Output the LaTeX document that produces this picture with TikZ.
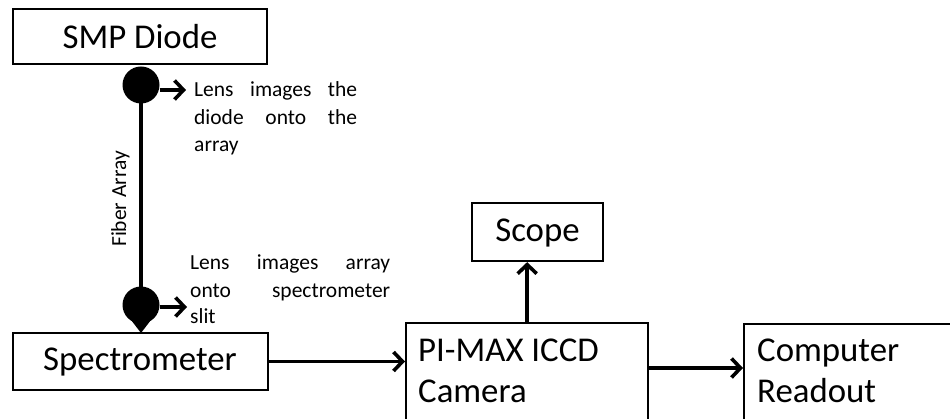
\documentclass[tikz,border=0pt]{standalone}
\usepackage{fontspec}
\setmainfont{Carlito}
\usetikzlibrary{arrows.meta}
\begin{document}
\begin{tikzpicture}[x=1pt,y=-1pt,
  box/.style={draw=black,line width=2.3pt,rectangle,inner sep=0pt},
  big/.style={font=\fontsize{34.8}{41}\selectfont,inner sep=0pt,text=black},
  small/.style={font=\fontsize{21.5}{26}\selectfont,inner sep=0pt,anchor=base west,text=black},
  lens/.style={circle,fill=black,minimum size=37pt,inner sep=0pt},
  arr/.style={line width=3.6pt,-{Straight Barb[length=9pt,width=19pt]}},
  wire/.style={line width=3.6pt}]
\useasboundingbox (0,0) rectangle (950,419);
\clip (0,0) rectangle (950,419);
\fill[white] (0,0) rectangle (950,419);
% boxes
\node[box,minimum width=254pt,minimum height=55pt] (smp) at (140,36.5) {};
\node[big] (smpt) at (140,37) {SMP Diode};
\node[box,minimum width=255pt,minimum height=57pt] (spec) at (140.5,361.5) {};
\node[big] (spect) at (140,362) {Spectrometer};
\node[box,minimum width=131pt,minimum height=58pt] (scope) at (537.5,232) {};
\node[big] (scopet) at (537.5,233) {Scope};
\node[box,anchor=north west,minimum width=242pt,minimum height=120pt] (cam) at (405,322) {};
\node[big,anchor=base west] (camt1) at (418,362) {PI-MAX ICCD};
\node[big,anchor=base west] (camt2) at (418,402) {Camera};
\node[box,anchor=north west,minimum width=230pt,minimum height=120pt] (comp) at (743,323) {};
\node[big,anchor=base west] (compt1) at (757,362) {Computer};
\node[big,anchor=base west] (compt2) at (757,402) {Readout};
% lenses
\node[lens] (l1) at (141,85) {};
\node[lens] (l2) at (141,305) {};
\coordinate (tip) at (141,333);
\fill[black] (128,316) -- (tip) -- (154,316) -- cycle;
\draw[wire] (l1.center) -- (l2.center);
\node[small,rotate=90] (fiber) at (126,247) {Fiber Array};
% lens labels
\coordinate (a1) at (186,90);
\coordinate (a2) at (187,307);
\draw[arr] (l1.east |- a1) -- (a1);
\draw[arr] (l2.east |- a2) -- (a2);
\node[small] (u1) at (194,97) {\hbox to 163pt{Lens\hfill images\hfill the}};
\node[small] (u2) at (194,125) {\hbox to 163pt{diode\hfill onto\hfill the}};
\node[small] (u3) at (194,152) {array};
\node[small] (d1) at (190,270) {\hbox to 200pt{Lens\hfill images\hfill array}};
\node[small] (d2) at (190,298) {\hbox to 200pt{onto\hfill spectrometer}};
\node[small] (d3) at (190,324) {slit};
% connectors
\coordinate (yc) at (0,368);
\draw[arr] (spec.east) -- (spec.east -| cam.west);
\draw[arr] (cam.north) -- (cam.north |- scope.south);
\draw[arr] (cam.east |- yc) -- (comp.west |- yc);
\end{tikzpicture}
\end{document}
